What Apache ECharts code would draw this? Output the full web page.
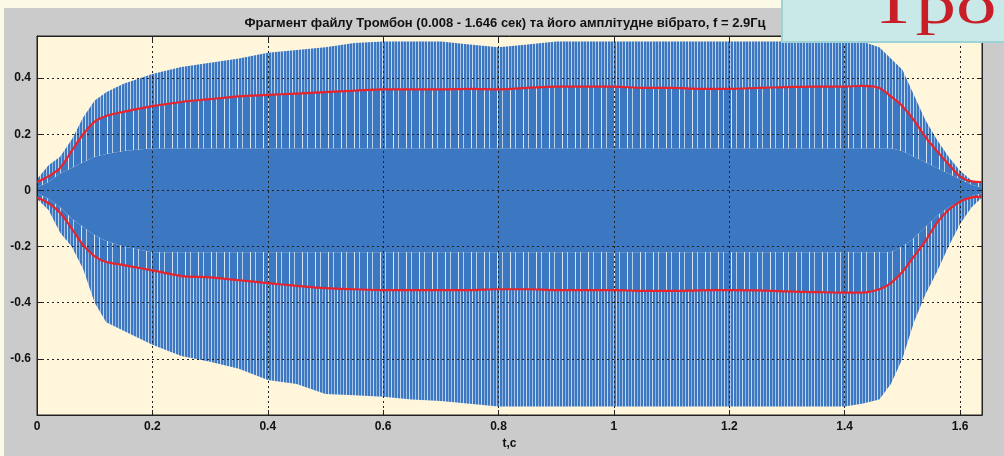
<!DOCTYPE html>
<html>
<head>
<meta charset="utf-8">
<script src="https://cdn.jsdelivr.net/npm/echarts@6/dist/echarts.min.js"></script>
<style>
  html, body { margin: 0; padding: 0; background: #fbfae6; }
  #panel { position: absolute; left: 4px; top: 8px; width: 1000px; height: 448px; background: #cbcbcb; }
  #chart { position: absolute; left: 0; top: 0; width: 1004px; height: 456px; }
</style>
</head>
<body>
<div id="panel"></div>
<div id="chart"></div>
<script>
// ---- data ----
const titleText = 'Фрагмент файлу Тромбон (0.008 - 1.646 сек) та його амплітудне вібрато, f = 2.9Гц';
const xName = 't,c';
const xTickValues = [0, 0.2, 0.4, 0.6, 0.8, 1, 1.2, 1.4, 1.6];
const xTickLabels = ['0', '0.2', '0.4', '0.6', '0.8', '1', '1.2', '1.4', '1.6'];
const yTickValues = [-0.6, -0.4, -0.2, 0, 0.2, 0.4];
const yTickLabels = ['-0.6', '-0.4', '-0.2', '0', '0.2', '0.4'];

const t = [0, 0.02, 0.04, 0.06, 0.08, 0.10, 0.12, 0.15, 0.20, 0.25, 0.30, 0.35, 0.40, 0.45, 0.50, 0.55,
  0.60, 0.65, 0.70, 0.75, 0.80, 0.85, 0.90, 0.95, 1.00, 1.05, 1.10, 1.15, 1.20, 1.25, 1.30, 1.35,
  1.40, 1.43, 1.46, 1.48, 1.50, 1.52, 1.54, 1.56, 1.58, 1.60, 1.62, 1.638];

// signal spike tips (max / min)
const peakUpper = [0.04, 0.09, 0.12, 0.18, 0.26, 0.32, 0.35, 0.38, 0.415, 0.44, 0.455, 0.47, 0.49, 0.50, 0.51, 0.525,
  0.53, 0.53, 0.53, 0.52, 0.51, 0.52, 0.53, 0.53, 0.53, 0.53, 0.53, 0.53, 0.53, 0.53, 0.53, 0.53,
  0.53, 0.53, 0.51, 0.47, 0.43, 0.34, 0.25, 0.18, 0.12, 0.07, 0.035, 0.025];
const peakLower = [-0.03, -0.07, -0.15, -0.2, -0.28, -0.40, -0.47, -0.50, -0.55, -0.59, -0.61, -0.635, -0.675, -0.69, -0.725, -0.73,
  -0.735, -0.745, -0.75, -0.76, -0.77, -0.77, -0.77, -0.77, -0.77, -0.77, -0.77, -0.77, -0.77, -0.77, -0.77, -0.77,
  -0.77, -0.76, -0.745, -0.69, -0.60, -0.47, -0.37, -0.29, -0.20, -0.12, -0.06, -0.025];
// dense core of the signal
const coreUpper = [0.01, 0.03, 0.06, 0.08, 0.10, 0.12, 0.13, 0.14, 0.15, 0.15, 0.15, 0.15, 0.15, 0.15, 0.15, 0.15,
  0.15, 0.15, 0.15, 0.15, 0.15, 0.15, 0.15, 0.15, 0.15, 0.15, 0.15, 0.15, 0.15, 0.15, 0.15, 0.15,
  0.15, 0.15, 0.15, 0.15, 0.14, 0.12, 0.10, 0.08, 0.06, 0.04, 0.02, 0.01];
const coreLower = [-0.01, -0.03, -0.06, -0.10, -0.13, -0.16, -0.18, -0.20, -0.22, -0.22, -0.22, -0.22, -0.22, -0.22, -0.22, -0.22,
  -0.22, -0.22, -0.22, -0.22, -0.22, -0.22, -0.22, -0.22, -0.22, -0.22, -0.22, -0.22, -0.22, -0.22, -0.22, -0.22,
  -0.22, -0.22, -0.22, -0.22, -0.20, -0.17, -0.13, -0.09, -0.06, -0.04, -0.02, -0.01];
// amplitude vibrato envelope (red)
const envUpper = [0.03, 0.05, 0.08, 0.14, 0.20, 0.245, 0.265, 0.28, 0.30, 0.315, 0.325, 0.335, 0.34, 0.345, 0.35, 0.355,
  0.36, 0.36, 0.36, 0.362, 0.36, 0.365, 0.37, 0.37, 0.37, 0.365, 0.365, 0.362, 0.362, 0.365, 0.368, 0.37,
  0.37, 0.372, 0.365, 0.335, 0.30, 0.25, 0.19, 0.14, 0.093, 0.05, 0.032, 0.03];
const envLower = [-0.025, -0.045, -0.08, -0.135, -0.195, -0.235, -0.255, -0.266, -0.285, -0.305, -0.31, -0.32, -0.33, -0.34, -0.348, -0.352,
  -0.355, -0.355, -0.355, -0.355, -0.352, -0.352, -0.355, -0.355, -0.355, -0.358, -0.358, -0.356, -0.355, -0.356, -0.36, -0.362,
  -0.364, -0.364, -0.352, -0.33, -0.29, -0.235, -0.18, -0.115, -0.07, -0.04, -0.025, -0.022];

// ---- styles ----
const BLUE = '#3b78c1';
function stripePattern(cols) {
  const c = document.createElement('canvas');
  c.width = cols.length; c.height = 4;
  const g = c.getContext('2d');
  cols.forEach((col, i) => { g.fillStyle = col; g.fillRect(i, 0, 1, 4); });
  return { image: c, repeat: 'repeat' };
}
const patInner = stripePattern([BLUE, BLUE, BLUE, '#d9e5f2', BLUE, BLUE, BLUE, BLUE, '#b9cfe8', BLUE, BLUE, BLUE, BLUE]);
const patOuter = stripePattern([BLUE, '#a9c4e4', BLUE, BLUE, '#c7d8ec', BLUE, BLUE, '#8fb2dc', BLUE]);

// bands: [lowerArray, upperArray, fill]
const bands = [
  [coreLower, coreUpper, BLUE],
  [coreUpper, envUpper, patInner],
  [envUpper, peakUpper, patOuter],
  [envLower, coreLower, patInner],
  [peakLower, envLower, patOuter]
];

const chart = echarts.init(document.getElementById('chart'), null, { renderer: 'canvas' });
const fmtX = v => { const i = xTickValues.findIndex(x => Math.abs(x - v) < 1e-6); return i >= 0 ? xTickLabels[i] : ''; };
const fmtY = v => { const i = yTickValues.findIndex(x => Math.abs(x - v) < 1e-6); return i >= 0 ? yTickLabels[i] : ''; };
const labelFont = { color: '#111', fontSize: 12, fontWeight: 'bold', fontFamily: 'Liberation Sans, Arial, sans-serif' };

chart.setOption({
  backgroundColor: 'transparent',
  animation: false,
  title: {
    text: titleText, left: 500, top: 12, textAlign: 'center',
    textStyle: { fontSize: 13, fontWeight: 'bold', color: '#111', fontFamily: 'Liberation Sans Narrow, Arial Narrow, sans-serif' }
  },
  grid: { left: 37, right: 22, top: 36, bottom: 41, show: true, backgroundColor: '#fff6dc', borderColor: '#222', borderWidth: 1, z: 0 },
  xAxis: [{
    type: 'value', min: 0, max: 1.638, interval: 0.2, z: 5,
    name: xName, nameLocation: 'middle', nameGap: 22,
    nameTextStyle: labelFont,
    axisLine: { onZero: false, lineStyle: { color: '#222', width: 1 } },
    axisTick: { inside: true, length: 5, lineStyle: { color: '#222' } },
    axisLabel: Object.assign({ formatter: fmtX, margin: 6, showMaxLabel: false }, labelFont),
    splitLine: { show: true, lineStyle: { color: '#222', type: [2, 3], width: 1 } }
  }, {
    type: 'value', min: 0, max: 1.638, interval: 0.2, position: 'top', z: 5,
    axisLine: { onZero: false, lineStyle: { color: '#222' } },
    axisTick: { inside: true, length: 5, lineStyle: { color: '#222' } },
    axisLabel: { show: false }, splitLine: { show: false }
  }],
  yAxis: [{
    type: 'value', min: -0.8, max: 0.55, interval: 0.2, z: 5,
    axisLine: { show: true, onZero: false, lineStyle: { color: '#222', width: 1 } },
    axisTick: { show: true, inside: true, length: 5, lineStyle: { color: '#222' } },
    axisLabel: Object.assign({ formatter: fmtY, margin: 6, showMaxLabel: false }, labelFont),
    splitLine: { show: true, lineStyle: { color: '#222', type: [2, 3], width: 1 } }
  }, {
    type: 'value', min: -0.8, max: 0.55, interval: 0.2, position: 'right', z: 5,
    axisLine: { show: true, onZero: false, lineStyle: { color: '#222' } },
    axisTick: { show: true, inside: true, length: 5, lineStyle: { color: '#222' } },
    axisLabel: { show: false }, splitLine: { show: false }
  }],
  series: [{
    type: 'custom',
    z: 2,
    clip: true,
    data: bands.map((b, i) => [i]),
    renderItem: function (params, api) {
      const b = bands[params.dataIndex];
      const pts = [];
      for (let k = 0; k < t.length; k++) pts.push(api.coord([t[k], b[1][k]]));
      for (let k = t.length - 1; k >= 0; k--) pts.push(api.coord([t[k], b[0][k]]));
      return { type: 'polygon', shape: { points: pts }, style: { fill: b[2], stroke: null } };
    }
  }, {
    type: 'line', z: 10, symbol: 'none', smooth: 0.3,
    data: t.map((x, i) => [x, envUpper[i]]),
    lineStyle: { color: '#e8232b', width: 2.2 }
  }, {
    type: 'line', z: 10, symbol: 'none', smooth: 0.3,
    data: t.map((x, i) => [x, envLower[i]]),
    lineStyle: { color: '#e8232b', width: 2.2 }
  }],
  graphic: [{
    type: 'rect', z: 100, shape: { x: 782, y: -3, width: 225, height: 45 },
    style: { fill: '#c9e8e8', stroke: '#9ed3d6', lineWidth: 2 }
  }, {
    type: 'text', z: 101, x: 869, y: -21, scaleX: 1.4,
    style: { text: 'Тро', fill: '#c81e28', font: '58px "Liberation Serif", "DejaVu Serif", serif' }
  }]
});
</script>
</body>
</html>
